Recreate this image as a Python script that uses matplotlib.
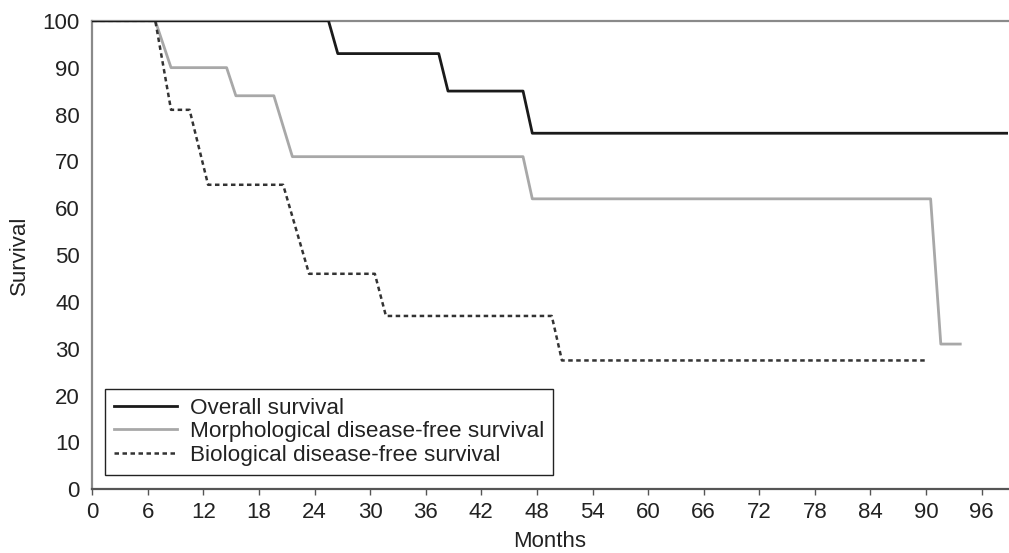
import matplotlib
matplotlib.use("Agg")
import matplotlib.pyplot as plt

plt.rcParams['font.family'] = ['Liberation Sans', 'DejaVu Sans']

# Data (months, survival %)
overall_x = [0, 25.5, 26.5, 37.4, 38.4, 46.5, 47.5, 98.8]
overall_y = [100, 100, 93, 93, 85, 85, 76, 76]

morph_x = [0, 6.8, 8.5, 14.5, 15.5, 19.6, 21.6, 46.5, 47.5, 90.5, 91.6, 93.7]
morph_y = [100, 100, 90, 90, 84, 84, 71, 71, 62, 62, 31, 31]

bio_x = [0, 6.8, 8.5, 10.5, 12.5, 20.6, 23.4, 30.5, 31.7, 49.6, 50.7, 90.1]
bio_y = [100, 100, 81, 81, 65, 65, 46, 46, 37, 37, 27.5, 27.5]

xticks = list(range(0, 97, 6))
yticks = list(range(0, 101, 10))
labels = ["Overall survival", "Morphological disease-free survival",
          "Biological disease-free survival"]

W, H = 1009, 553
fig = plt.figure(figsize=(W / 100, H / 100), dpi=100)
x0, x1 = 92.3, 1007.5
y0, y1 = 489.3, 20.8
ax = fig.add_axes([x0 / W, 1 - y0 / H, (x1 - x0) / W, (y0 - y1) / H])

ax.plot(morph_x, morph_y, color='#a8a8a8', lw=2.0, label=labels[1], zorder=2)
ax.plot(bio_x, bio_y, color='#333333', lw=1.8, linestyle=(0, (1.8, 1.4)),
        label=labels[2], zorder=3)
ax.plot(overall_x, overall_y, color='#1a1a1a', lw=2.0, label=labels[0], zorder=4)

ax.set_xlim(0, 98.8)
ax.set_ylim(0, 100)
ax.set_xticks(xticks)
ax.set_yticks(yticks)
ax.tick_params(axis='x', length=4, width=1.0, color='#555555', labelsize=16,
               pad=5, labelcolor='#222222')
ax.tick_params(axis='y', length=0, labelsize=16, pad=9, labelcolor='#222222')

for s in ['left', 'top']:
    ax.spines[s].set_color('#8a8a8a')
    ax.spines[s].set_linewidth(1.6)
ax.spines['bottom'].set_color('#555555')
ax.spines['bottom'].set_linewidth(1.6)
ax.spines['right'].set_visible(False)

ax.set_xlabel("Months", fontsize=16, color='#222222', labelpad=6)
ax.set_ylabel("Survival", fontsize=16, color='#222222', labelpad=9)

h, l = ax.get_legend_handles_labels()
order = [2, 0, 1]
leg = ax.legend([h[i] for i in order], [l[i] for i in order],
                loc='lower left', bbox_to_anchor=(105 / W, 1 - 475 / H),
                bbox_transform=fig.transFigure, fontsize=16.2, frameon=True,
                fancybox=False, edgecolor='#222222', framealpha=1,
                handlelength=2.8, handletextpad=0.58, labelspacing=0.12,
                borderpad=0.4, borderaxespad=0)
leg.get_frame().set_linewidth(1.0)
for t in leg.get_texts():
    t.set_color('#222222')

fig.savefig("out.png", dpi=100)
